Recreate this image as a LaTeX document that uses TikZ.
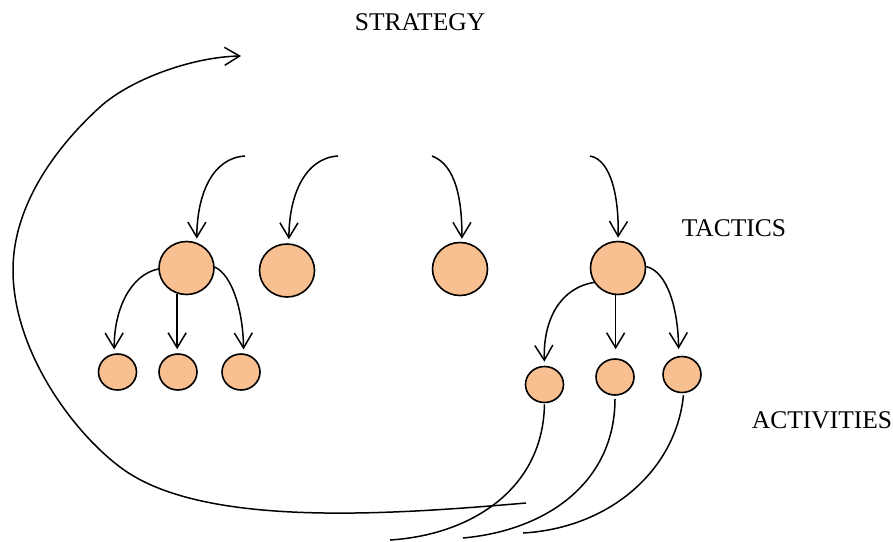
\documentclass[tikz,border=0pt]{standalone}
\usepackage{fontspec}
\setmainfont{Liberation Serif}
\usetikzlibrary{shapes.geometric,arrows.meta}
\definecolor{peach}{RGB}{248,192,144}
\begin{document}
\begin{tikzpicture}[x=1pt,y=-1pt,
  big/.style={ellipse,draw=black,fill=peach,line width=1.6pt,minimum width=55pt,minimum height=53pt,inner sep=0pt},
  small/.style={ellipse,draw=black,fill=peach,line width=1.6pt,minimum width=38pt,minimum height=36pt,inner sep=0pt},
  arr/.style={line width=1.5pt,-{Straight Barb[length=15pt,width=18pt,line width=1.5pt]}},
  ln/.style={line width=1.5pt},
  lbl/.style={font=\fontsize{25.5}{30}\selectfont,inner sep=0pt}]
\useasboundingbox (0,0) rectangle (893,541);
% labels
\node[lbl] (strategy) at (420,22) {STRATEGY};
\node[lbl] (tactics) at (734,228) {TACTICS};
\node[lbl] (activities) at (822,420) {ACTIVITIES};
% tactics
\node[big] (T1) at (186.5,268) {};
\node[big] (T2) at (287,270.5) {};
\node[big] (T3) at (460,269) {};
\node[big] (T4) at (618,268) {};
% activities
\node[small] (A1) at (117.5,372) {};
\node[small] (A2) at (178,372) {};
\node[small] (A3) at (241,372) {};
\node[small] (B1) at (544.5,384.5) {};
\node[small] (B2) at (615,377) {};
\node[small] (B3) at (682,374.5) {};
% free ends
\coordinate (s1) at (245,156);
\coordinate (s2) at (338,156);
\coordinate (s3) at (432,156);
\coordinate (s4) at (590,156);
\coordinate (e1) at (390,540);
\coordinate (e2) at (463,538);
\coordinate (e3) at (523,533);
\coordinate (fbStart) at (526,503);
\coordinate (fbEnd) at (241,56);
% strategy -> tactics
\draw[arr,shorten >=4pt] (s1) .. controls (212,158) and (197,195) .. (T1.68);
\draw[arr,shorten >=4pt] (s2) .. controls (305,158) and (289,195) .. (T2.86);
\draw[arr,shorten >=3pt] (s3) .. controls (456,165) and (462,200) .. (T3.86);
\draw[arr,shorten >=3pt] (s4) .. controls (612,160) and (619,200) .. (T4.north);
% tactics -> activities (left)
\draw[arr,shorten >=4pt] (T1.182) .. controls (130,275) and (114,310) .. (A1.100);
\draw[arr,shorten >=4pt] (T1.250) -- (T1.250 |- A2.north);
\draw[arr,shorten >=4pt] (T1.2) .. controls (232,275) and (243,310) .. (A3.82);
% tactics -> activities (right)
\draw[arr,shorten >=4pt] (T4.211) .. controls (560,288) and (543,320) .. (B1.north);
\draw[arr,shorten >=9pt] (T4.265) -- (T4.265 |- B2.north);
\draw[arr,shorten >=7pt] (T4.3) .. controls (668,272) and (678,310) .. (B3.100);
% activities -> bottom
\draw[ln,shorten <=1pt] (B1.south) .. controls (543,490) and (470,535) .. (e1);
\draw[ln,shorten <=3pt] (B2.south) .. controls (615,480) and (550,530) .. (e2);
\draw[ln,shorten <=2pt] (B3.275) .. controls (676,470) and (610,528) .. (e3);
% feedback loop
\draw[arr] (fbStart) .. controls (386,515) and (200,528) .. (120,467)
  .. controls (72,431) and (13,350) .. (13,270)
  .. controls (13,200) and (63,140.5) .. (100,107)
  .. controls (129.6,80) and (191,57) .. (fbEnd);
\end{tikzpicture}
\end{document}
